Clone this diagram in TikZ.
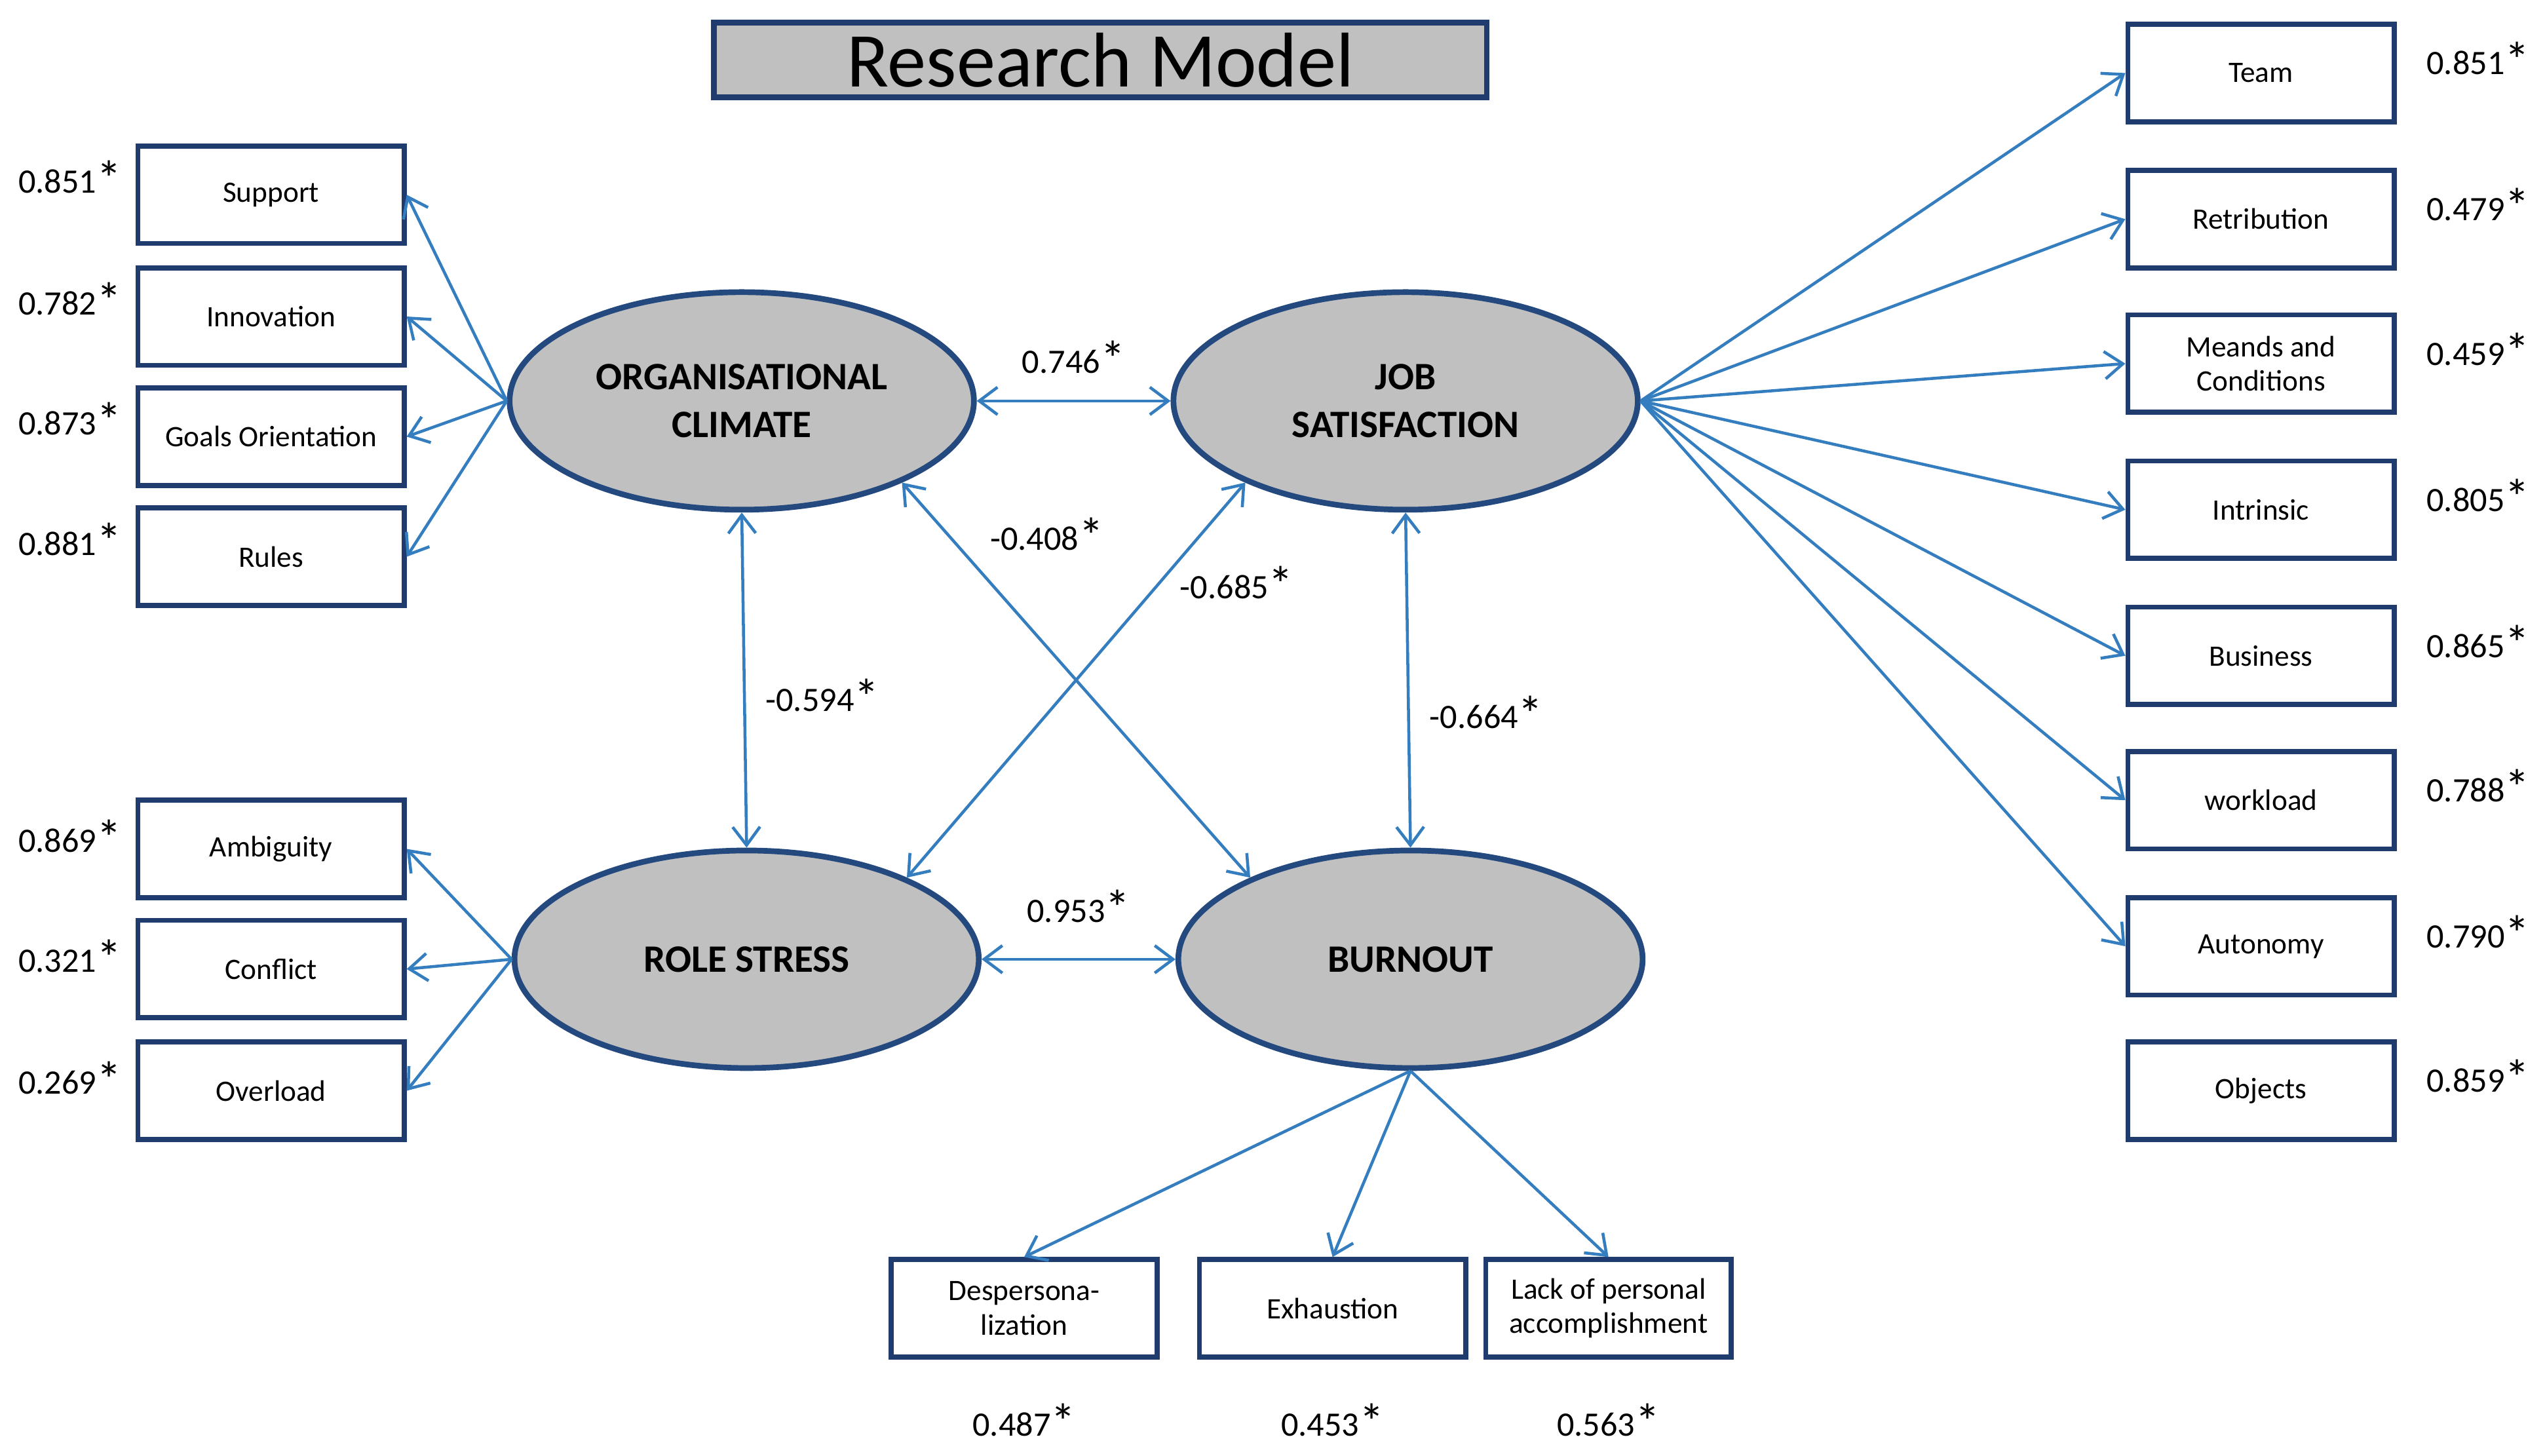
\documentclass[tikz,border=0pt]{standalone}
\usepackage{fontspec}
\setmainfont{Carlito}
\usetikzlibrary{arrows.meta,shapes.geometric}
\definecolor{lineblue}{RGB}{52,125,190}
\definecolor{boxblue}{RGB}{32,60,110}
\definecolor{ellgray}{RGB}{192,192,192}
\tikzset{>={Straight Barb[length=8pt,width=12pt]}}
\newcommand{\val}[1]{#1\raisebox{-0.2ex}{\fontsize{22}{22}\selectfont *}}

\begin{document}
\begin{tikzpicture}[x=0.025cm,y=-0.025cm,
    item/.style={draw=boxblue,line width=2.2pt,minimum width=4.1cm,minimum height=1.5cm,
      align=center,font=\fontsize{13}{15}\selectfont},
    construct/.style={draw=boxblue!80!lineblue,line width=2.5pt,fill=ellgray,ellipse,
      minimum width=7.15cm,minimum height=3.35cm,align=center,font=\bfseries\fontsize{17}{21}\selectfont},
    link/.style={draw=lineblue,line width=1.3pt,->},
    both/.style={draw=lineblue,line width=1.3pt,<->},
    est/.style={font=\fontsize{15}{17}\selectfont,inner sep=2pt}]
  \useasboundingbox (0,0) rectangle (1568,897);

  \node[draw=boxblue,line width=2.5pt,fill=ellgray,minimum width=11.9cm,minimum height=1.15cm,
    font=\fontsize{34}{34}\selectfont] (title) at (678,37) {Research Model};

  % constructs
  \node[construct] (oc) at (457,247) {ORGANISATIONAL\\CLIMATE};
  \node[construct] (js) at (866,247) {JOB\\SATISFACTION};
  \node[construct] (rs) at (460,591) {ROLE STRESS};
  \node[construct] (bo) at (869,591) {BURNOUT};

  % organisational climate indicators
  \foreach \name/\txt/\y/\v in {sup/Support/120/0.851, inn/Innovation/195/0.782,
      goa/Goals Orientation/269/0.873, rul/Rules/343/0.881} {
    \node[item] (\name) at (167,\y) {\txt};
    \node[est,anchor=east] at (78,\y-10) {\val{\v}};
    \draw[link] (oc.west) -- (\name.east);
  }

  % role stress indicators
  \foreach \name/\txt/\y/\v in {amb/Ambiguity/523/0.869, con/Conflict/597/0.321,
      ovl/Overload/672/0.269} {
    \node[item] (\name) at (167,\y) {\txt};
    \node[est,anchor=east] at (78,\y-7) {\val{\v}};
    \draw[link] (rs.west) -- (\name.east);
  }

  % job satisfaction indicators
  \foreach \name/\txt/\y/\v in {tea/Team/45/0.851, ret/Retribution/135/0.479,
      mea/Meands and\\Conditions/224/0.459, int/Intrinsic/314/0.805, bus/Business/404/0.865,
      wor/workload/493/0.788, aut/Autonomy/583/0.790} {
    \node[item] (\name) at (1393,\y) {\txt};
    \node[est,anchor=west] at (1492,\y-8) {\val{\v}};
    \draw[link] (js.east) -- (\name.west);
  }
  \node[item] (obj) at (1393,672) {Objects};
  \node[est,anchor=west] at (1492,664) {\val{0.859}};

  % burnout indicators
  \node[item] (des) at (631,806) {Despersona-\\lization};
  \node[item] (exh) at (821,806) {Exhaustion};
  \node[item,minimum width=3.78cm] (lac) at (991,806) {Lack of personal\\accomplishment};
  \foreach \name/\v in {des/0.487, exh/0.453, lac/0.563} {
    \draw[link] (bo.south) -- (\name.north);
    \node[est] at ([yshift=-0.95cm]\name.south) {\val{\v}};
  }

  % structural paths
  \draw[both] (oc.east) -- node[est,above=8pt] {\val{0.746}} (js.west);
  \draw[both] (rs.east) -- node[est,above=12pt] {\val{0.953}} (bo.west);
  \draw[both] (oc.south) -- node[est,fill=white,pos=0.55,xshift=1.2cm] {\val{-0.594}} (rs.north);
  \draw[both] (js.south) -- node[est,fill=white,pos=0.6,xshift=1.2cm] {\val{-0.664}} (bo.north);
  \draw[both] (oc.-27) -- (bo.153);
  \draw[both] (js.-153) -- (rs.27);
  \node[est] at (645,330) {\val{-0.408}};
  \node[est] at (762,360) {\val{-0.685}};
\end{tikzpicture}
\end{document}
